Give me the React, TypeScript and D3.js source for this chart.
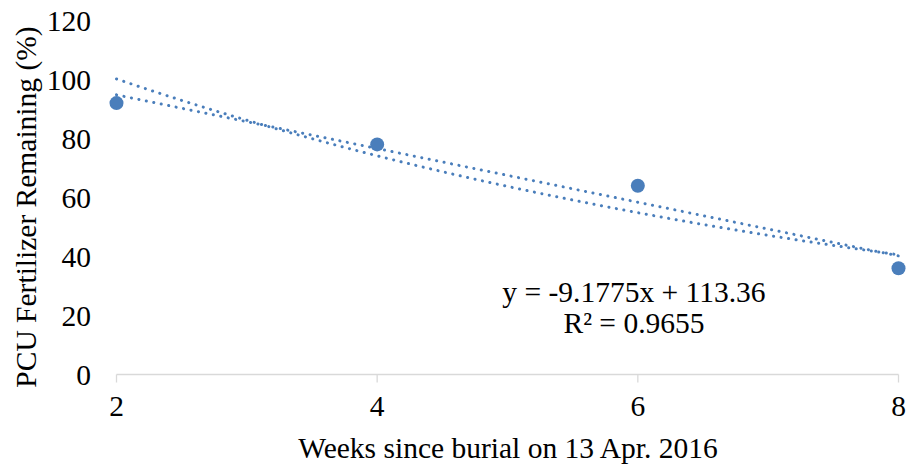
import React, {useRef, useEffect} from 'react'
import * as d3 from "d3";

// weeks since burial and % remaining
const weeks = [2, 4, 6, 8];
const remaining = [92, 78, 64, 36];
const xTicks = [2, 4, 6, 8];
const yTicks = [0, 20, 40, 60, 80, 100, 120];
const equationLines = ["y = -9.1775x + 113.36", "R\u00b2 = 0.9655"];

const App = () => {
  const svgRef = useRef<SVGSVGElement>(null);

  useEffect(() => {
    const width = 907;
    const height = 469;
    const blue = "#4a7ebb";
    const fs = 29.5;

    const x = d3.scaleLinear().domain([2, 8]).range([116.5, 898.5]);
    const y = d3.scaleLinear().domain([0, 120]).range([374.5, 20.5]);

    const svg = d3.select(svgRef.current)
      .attr("width", width)
      .attr("height", height)
      .style("position", "absolute")
      .style("left", "0px")
      .style("top", "0px")
      .style("font-family", "'Liberation Serif', serif");
    svg.selectAll("*").remove();

    const pts = weeks.map((w, i) => ({x: w, y: remaining[i]}));

    // linear fit (least squares)
    const mx = d3.mean(weeks)!;
    const my = d3.mean(remaining)!;
    const sxx = d3.sum(weeks, w => (w - mx) ** 2);
    const slope = d3.sum(pts, p => (p.x - mx) * (p.y - my)) / sxx;
    const icpt = my - slope * mx;

    // exponential fit on log values
    const lny = remaining.map(v => Math.log(v));
    const ml = d3.mean(lny)!;
    const eb = d3.sum(weeks, (w, i) => (w - mx) * (lny[i] - ml)) / sxx;
    const ea = Math.exp(ml - eb * mx);

    const xs = d3.range(2, 8.001, 0.05);
    const line = d3.line<number[]>().x(d => x(d[0])).y(d => y(d[1]));

    // x axis
    const gx = svg.append("g").attr("transform", `translate(0,${y(0)})`);
    gx.append("line")
      .attr("x1", x(2)).attr("x2", x(8))
      .attr("stroke", "#d9d9d9").attr("stroke-width", 1.3);
    gx.selectAll(".tick")
      .data(xTicks)
      .join("line")
      .attr("x1", d => x(d)).attr("x2", d => x(d))
      .attr("y1", 0).attr("y2", 8)
      .attr("stroke", "#d9d9d9").attr("stroke-width", 1.3);
    gx.selectAll("text")
      .data(xTicks)
      .join("text")
      .attr("x", d => x(d))
      .attr("y", 41.5)
      .attr("text-anchor", "middle")
      .attr("font-size", fs)
      .text(d => d);

    // y tick labels
    svg.append("g")
      .selectAll("text")
      .data(yTicks)
      .join("text")
      .attr("x", 91)
      .attr("y", d => y(d))
      .attr("dy", "0.34em")
      .attr("text-anchor", "end")
      .attr("font-size", fs)
      .text(d => d);

    // trend lines
    svg.append("path")
      .attr("d", line(xs.map(v => [v, slope * v + icpt])))
      .attr("fill", "none")
      .attr("stroke", blue)
      .attr("stroke-width", 3)
      .attr("stroke-linecap", "round")
      .attr("stroke-dasharray", "0.1 7.5");
    svg.append("path")
      .attr("d", line(xs.map(v => [v, ea * Math.exp(eb * v)])))
      .attr("fill", "none")
      .attr("stroke", blue)
      .attr("stroke-width", 3)
      .attr("stroke-linecap", "round")
      .attr("stroke-dasharray", "0.1 7.5");

    // points
    svg.append("g")
      .selectAll("circle")
      .data(pts)
      .join("circle")
      .attr("cx", d => x(d.x))
      .attr("cy", d => y(d.y))
      .attr("r", 7)
      .attr("fill", blue);

    // equation
    svg.append("g")
      .selectAll("text")
      .data(equationLines)
      .join("text")
      .attr("x", 634)
      .attr("y", (d, i) => 302 + i * 31)
      .attr("text-anchor", "middle")
      .attr("font-size", fs)
      .text(d => d);

    // axis titles
    svg.append("text")
      .attr("transform", `translate(36,207) rotate(-90)`)
      .attr("text-anchor", "middle")
      .attr("font-size", fs)
      .text("PCU Fertilizer Remaining (%)");
    svg.append("text")
      .attr("x", 508)
      .attr("y", 458)
      .attr("text-anchor", "middle")
      .attr("font-size", fs)
      .text("Weeks since burial on 13 Apr. 2016");
  }, []);

  return (
    <svg ref={svgRef}/>
  );
}

export default App;
